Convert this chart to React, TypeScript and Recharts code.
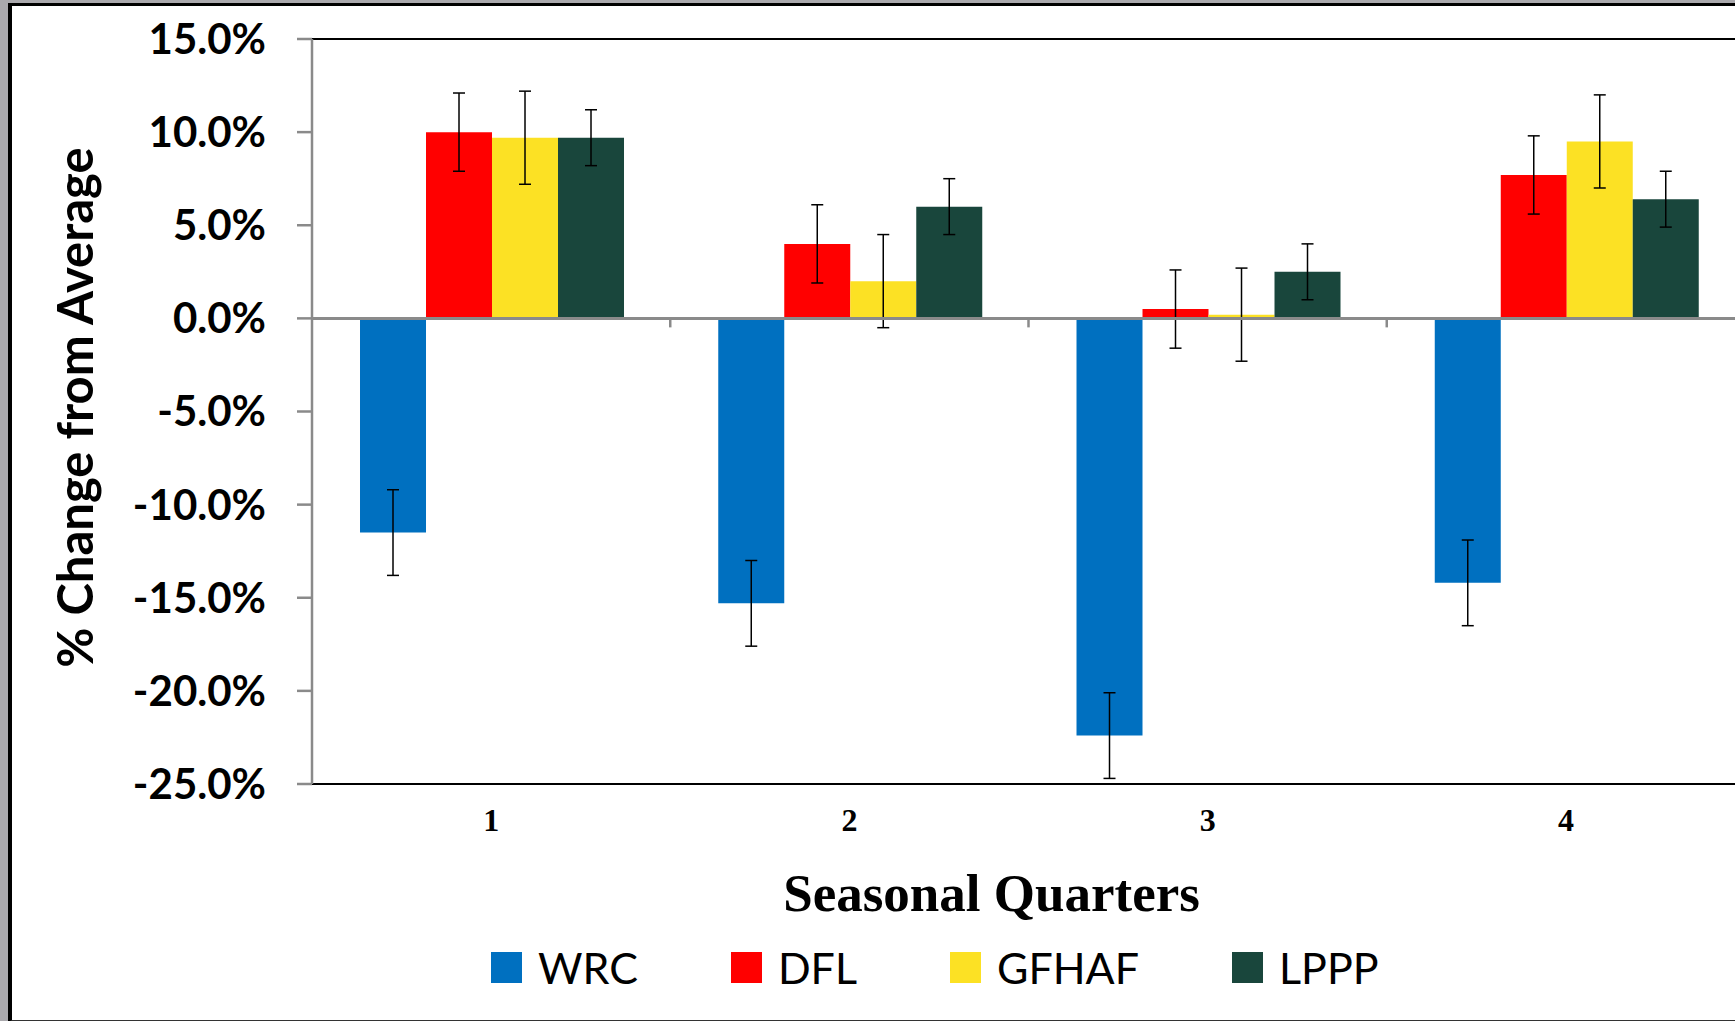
import React from 'react';
import { BarChart, Bar, XAxis, YAxis, ErrorBar, ReferenceLine, Legend } from 'recharts';

// seasonal quarters on the x axis
const quarters = ['1', '2', '3', '4'];
const seriesNames = ['WRC', 'DFL', 'GFHAF', 'LPPP'];

// % change from average
const wrc = [-11.5, -15.3, -22.4, -14.2];
const dfl = [10.0, 4.0, 0.5, 7.7];
const gfhaf = [9.7, 2.0, 0.2, 9.5];
const lppp = [9.7, 6.0, 2.5, 6.4];

// error bar half-lengths
const wrcErr = [2.3, 2.3, 2.3, 2.3];
const dflErr = [2.1, 2.1, 2.1, 2.1];
const gfhafErr = [2.5, 2.5, 2.5, 2.5];
const lpppErr = [1.5, 1.5, 1.5, 1.5];

const yTicks = [-25, -20, -15, -10, -5, 0, 5, 10, 15];

const colors = ['#0070C0', '#FF0000', '#FCE124', '#19463C'];

const data = quarters.map((q, i) => ({
  quarter: q,
  WRC: wrc[i],
  WRCerr: wrcErr[i],
  DFL: dfl[i],
  DFLerr: dflErr[i],
  GFHAF: gfhaf[i],
  GFHAFerr: gfhafErr[i],
  LPPP: lppp[i],
  LPPPerr: lpppErr[i],
}));

const AXIS_GRAY = '#8a8a8a';

// zero line with small ticks between the quarters
const ZeroAxis = (props: any) => {
  const { x1, y1, x2 } = props;
  const step = (x2 - x1) / quarters.length;
  return (
    <g>
      <line x1={x1} y1={y1} x2={x2} y2={y1} stroke={AXIS_GRAY} strokeWidth={3} />
      {quarters.slice(1).map((q, k) => (
        <line
          key={q}
          x1={x1 + (k + 1) * step}
          x2={x1 + (k + 1) * step}
          y1={y1}
          y2={y1 + 9}
          stroke={AXIS_GRAY}
          strokeWidth={2.5}
        />
      ))}
    </g>
  );
};

const YTitle = (props: any) => {
  const { viewBox } = props;
  const cx = 93;
  const cy = viewBox.y + viewBox.height / 2 - 4;
  return (
    <text
      x={cx}
      y={cy}
      transform={`rotate(-90 ${cx} ${cy})`}
      textAnchor="middle"
      fontFamily="Lato"
      fontWeight="bold"
      fontSize={49}
      fill="#000"
    >
      % Change from Average
    </text>
  );
};

const XTitle = (props: any) => {
  const { viewBox } = props;
  const cx = viewBox.x + viewBox.width / 2 - 37;
  return (
    <text
      x={cx}
      y={911}
      textAnchor="middle"
      fontFamily="Liberation Serif"
      fontWeight="bold"
      fontSize={53}
      fill="#000"
    >
      Seasonal Quarters
    </text>
  );
};

const LegendContent = () => (
  <div
    style={{
      display: 'flex',
      alignItems: 'center',
      gap: 93,
      fontFamily: 'Lato',
      fontSize: 43,
      color: '#000',
      whiteSpace: 'nowrap',
    }}
  >
    {seriesNames.map((n, i) => (
      <div key={n} style={{ display: 'flex', alignItems: 'center' }}>
        <span style={{ display: 'inline-block', width: 31, height: 31, background: colors[i], marginRight: 16 }} />
        <span style={{ lineHeight: 1 }}>{n}</span>
      </div>
    ))}
  </div>
);

export default function App() {
  return (
    <div
      style={{
        position: 'fixed',
        left: 0,
        top: 0,
        width: 1735,
        height: 1021,
        overflow: 'hidden',
        background: '#aaa9ad',
      }}
    >
      <div
        style={{
          position: 'absolute',
          left: 8,
          top: 3,
          width: 1800,
          height: 1014,
          background: '#fff',
          borderLeft: '4px solid #000',
          borderTop: '3px solid #000',
          borderBottom: '2px solid #333',
        }}
      />
      <div style={{ position: 'absolute', left: 0, top: 0 }}>
        <BarChart
          width={1800}
          height={1021}
          data={data}
          margin={{ top: 39, right: 55, left: 0, bottom: 177 }}
          barCategoryGap="13.4%"
          barGap={0}
        >
          <XAxis
            dataKey="quarter"
            height={60}
            axisLine={{ stroke: '#000', strokeWidth: 2 }}
            tickLine={false}
            tickSize={0}
            tickMargin={24}
            tick={{ fill: '#000', fontSize: 32, fontWeight: 'bold', fontFamily: 'Liberation Serif' }}
            label={<XTitle />}
          />
          <YAxis
            type="number"
            domain={[-25, 15]}
            ticks={yTicks}
            width={312}
            interval={0}
            tickFormatter={(v: number) => `${v.toFixed(1)}%`}
            axisLine={{ stroke: AXIS_GRAY, strokeWidth: 2.5 }}
            tickLine={{ stroke: AXIS_GRAY, strokeWidth: 2.5 }}
            tickSize={15}
            tickMargin={31}
            tick={{ fill: '#000', fontSize: 42, fontWeight: 'bold', fontFamily: 'Lato' }}
            label={<YTitle />}
          />
          <Bar dataKey="WRC" fill={colors[0]} isAnimationActive={false}>
            <ErrorBar dataKey="WRCerr" width={6} stroke="#000" strokeWidth={1.5} />
          </Bar>
          <Bar dataKey="DFL" fill={colors[1]} isAnimationActive={false}>
            <ErrorBar dataKey="DFLerr" width={6} stroke="#000" strokeWidth={1.5} />
          </Bar>
          <Bar dataKey="GFHAF" fill={colors[2]} isAnimationActive={false}>
            <ErrorBar dataKey="GFHAFerr" width={6} stroke="#000" strokeWidth={1.5} />
          </Bar>
          <Bar dataKey="LPPP" fill={colors[3]} isAnimationActive={false}>
            <ErrorBar dataKey="LPPPerr" width={6} stroke="#000" strokeWidth={1.5} />
          </Bar>
          <ReferenceLine y={15} stroke="#000" strokeWidth={2} />
          <ReferenceLine y={0} shape={<ZeroAxis />} />
          <Legend
            layout="horizontal"
            verticalAlign="middle"
            align="center"
            content={<LegendContent />}
            wrapperStyle={{ left: 491, top: 946, width: 'auto', height: 'auto' }}
          />
        </BarChart>
      </div>
    </div>
  );
}
